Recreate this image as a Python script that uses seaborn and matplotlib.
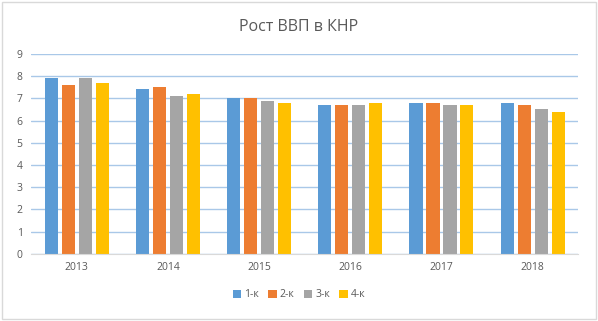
import seaborn as sns
import matplotlib.pyplot as plt
import pandas as pd
from matplotlib.patches import Rectangle

years = ["2013", "2014", "2015", "2016", "2017", "2018"]
quarters = ["1-к", "2-к", "3-к", "4-к"]
q1 = [7.9, 7.4, 7.0, 6.7, 6.8, 6.8]
q2 = [7.6, 7.5, 7.0, 6.7, 6.8, 6.7]
q3 = [7.9, 7.1, 6.9, 6.7, 6.7, 6.5]
q4 = [7.7, 7.2, 6.8, 6.8, 6.7, 6.4]
colors = ["#5B9BD5", "#ED7D31", "#A5A5A5", "#FFC000"]

rows = []
for q, vals in zip(quarters, [q1, q2, q3, q4]):
    for y, v in zip(years, vals):
        rows.append({"year": y, "quarter": q, "value": v})
df = pd.DataFrame(rows)

sns.set_style("white")
plt.rcParams["font.family"] = ["Open Sans", "DejaVu Sans"]

fig = plt.figure(figsize=(5.98, 3.21), dpi=100)
ax = fig.add_axes([0.052, 0.209, 0.915, 0.623])

sns.barplot(data=df, x="year", y="value", hue="quarter", order=years,
            hue_order=quarters, palette=colors, width=0.745,
            saturation=1, linewidth=0, ax=ax, legend=True)

# narrow bars so they leave a small gap like in Excel
for p in ax.patches:
    w = p.get_width()
    new_w = w * 0.77
    p.set_x(p.get_x() + (w - new_w) / 2)
    p.set_width(new_w)

ax.set_ylim(0, 9)
ax.set_yticks(range(10))
ax.set_xlim(-0.5, 5.5)
ax.grid(axis="y", color="#A9C8E8", linewidth=1)
ax.set_axisbelow(True)
for s in ["top", "right", "left"]:
    ax.spines[s].set_visible(False)
ax.spines["bottom"].set_color("#D9D9D9")
ax.tick_params(axis="both", length=0, labelsize=7.5, colors="#595959", pad=6)
ax.set_xlabel("")
ax.set_ylabel("")

fig.text(0.5, 0.915, "Рост ВВП в КНР", ha="center", va="center",
         fontsize=11.5, color="#595959")

ax.legend(loc="center", bbox_to_anchor=(0.5, 0.081), bbox_transform=fig.transFigure,
          ncol=4, frameon=False, fontsize=7.5, handlelength=0.8, handleheight=0.8,
          handletextpad=0.3, columnspacing=0.9, labelcolor="#595959")

fig.patches.append(Rectangle((0.003, 0.006), 0.994, 0.988, transform=fig.transFigure,
                             fill=False, edgecolor="#D9D9D9", linewidth=1))

fig.savefig("out.png", dpi=100)
